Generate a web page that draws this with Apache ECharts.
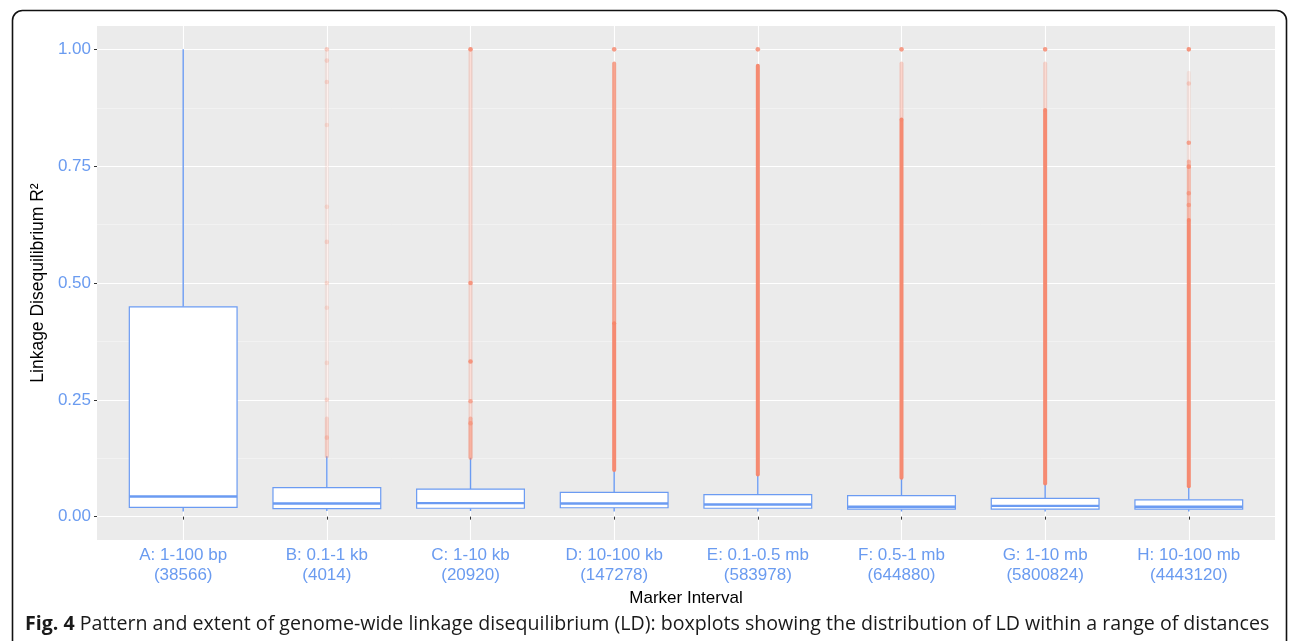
<!DOCTYPE html>
<html>
<head>
<meta charset="utf-8">
<script src="https://cdn.jsdelivr.net/npm/echarts@6/dist/echarts.min.js"></script>
<style>
  html, body { margin: 0; padding: 0; background: #ffffff; }
  #chart { width: 1293px; height: 641px; }
</style>
</head>
<body>
<div id="chart"></div>
<script>
// Marker interval classes and number of marker pairs in each class
const categories = ['A: 1-100 bp', 'B: 0.1-1 kb', 'C: 1-10 kb', 'D: 10-100 kb',
                    'E: 0.1-0.5 mb', 'F: 0.5-1 mb', 'G: 1-10 mb', 'H: 10-100 mb'];
const pairCounts = ['38566', '4014', '20920', '147278', '583978', '644880', '5800824', '4443120'];

// Box statistics of LD (R^2) per class
const whiskerLow  = [0.011, 0.012, 0.012, 0.011, 0.011, 0.011, 0.011, 0.011];
const q1          = [0.020, 0.017, 0.018, 0.019, 0.018, 0.016, 0.016, 0.016];
const median      = [0.043, 0.028, 0.029, 0.028, 0.026, 0.021, 0.023, 0.021];
const q3          = [0.449, 0.062, 0.059, 0.052, 0.047, 0.045, 0.039, 0.036];
const whiskerHigh = [1.000, 0.129, 0.126, 0.100, 0.090, 0.083, 0.071, 0.065];

// Outliers: dense runs of overlapping points [class no., from, to, opacity]
const outlierRuns = [
  [2, 0.129, 1.000, 0.12], [2, 0.129, 0.210, 0.25],
  [3, 0.126, 1.000, 0.28], [3, 0.126, 0.210, 0.50],
  [4, 0.100, 0.414, 0.95], [4, 0.414, 0.970, 0.75],
  [5, 0.090, 0.965, 0.95],
  [6, 0.083, 0.850, 0.95], [6, 0.850, 0.970, 0.35],
  [7, 0.071, 0.870, 0.95], [7, 0.870, 0.970, 0.30],
  [8, 0.065, 0.635, 0.95], [8, 0.635, 0.760, 0.55], [8, 0.760, 0.950, 0.15]
];
// Outliers: separately visible points [class no., R^2, opacity]
const outlierPoints = [
  [2, 1.000, 0.30], [2, 0.976, 0.25], [2, 0.930, 0.25], [2, 0.838, 0.20], [2, 0.663, 0.20],
  [2, 0.588, 0.25], [2, 0.500, 0.20], [2, 0.447, 0.20], [2, 0.329, 0.20], [2, 0.250, 0.25],
  [2, 0.169, 0.30],
  [3, 1.000, 0.80], [3, 0.500, 0.80], [3, 0.332, 0.80], [3, 0.247, 0.60], [3, 0.200, 0.50],
  [4, 1.000, 0.80],
  [5, 1.000, 0.80],
  [6, 1.000, 0.80],
  [7, 1.000, 0.80],
  [8, 1.000, 0.85], [8, 0.927, 0.30], [8, 0.800, 0.70], [8, 0.749, 0.75], [8, 0.692, 0.60],
  [8, 0.667, 0.60]
];

const yTicks = [0, 0.25, 0.5, 0.75, 1];
const yMinorTicks = [0.125, 0.375, 0.625, 0.875];
const xTicks = categories.map((c, i) => i + 1);

const BLUE = '#6B9BF2';
const LABEL_BLUE = '#6A9BF0';
const OUTLIER = '#F5856A';
const FONT = '"Liberation Sans", Arial, sans-serif';

const boxData = categories.map((c, i) =>
  [i + 1, whiskerLow[i], q1[i], median[i], q3[i], whiskerHigh[i]]);

const chart = echarts.init(document.getElementById('chart'), null, { renderer: 'canvas' });

chart.setOption({
  animation: false,
  backgroundColor: '#ffffff',
  grid: {
    left: 97, top: 26, right: 18, bottom: 101,
    show: true, backgroundColor: '#EBEBEB', borderWidth: 0
  },
  xAxis: {
    type: 'value', min: 0.4, max: 8.6,
    name: 'Marker Interval', nameLocation: 'middle', nameGap: 40,
    nameTextStyle: { color: '#000', fontSize: 17, fontFamily: FONT },
    axisLine: { show: false },
    axisTick: { show: true, customValues: xTicks, length: 3, lineStyle: { color: '#333', width: 1 } },
    axisLabel: {
      customValues: xTicks, margin: 5, color: LABEL_BLUE, fontSize: 17, fontFamily: FONT,
      lineHeight: 20, align: 'center',
      formatter: v => categories[v - 1] + '\n(' + pairCounts[v - 1] + ')'
    },
    splitLine: { show: true, lineStyle: { color: '#ffffff', width: 1.1 } }
  },
  yAxis: [{
    type: 'value', min: -0.05, max: 1.05,
    name: 'Linkage Disequilibrium R²', nameLocation: 'middle', nameGap: 45, nameRotate: 90,
    nameTextStyle: { color: '#000', fontSize: 17.5, fontFamily: FONT },
    axisLine: { show: false },
    axisTick: { show: true, customValues: yTicks, length: 3, lineStyle: { color: '#333', width: 1 } },
    axisLabel: {
      customValues: yTicks, margin: 6, color: LABEL_BLUE, fontSize: 17, fontFamily: FONT,
      formatter: v => v.toFixed(2)
    },
    splitLine: { show: true, lineStyle: { color: '#ffffff', width: 1.1 } }
  }, {
    type: 'value', min: -0.05, max: 1.05, position: 'left',
    axisLine: { show: false },
    axisTick: { show: false, customValues: yMinorTicks },
    axisLabel: { show: false, customValues: yMinorTicks },
    splitLine: { show: true, lineStyle: { color: '#F7F7F7', width: 0.6 } }
  }],
  series: [
    {
      // whiskers and boxes
      type: 'custom',
      data: boxData,
      z: 3,
      renderItem: function (params, api) {
        const x = api.value(0);
        const halfW = 0.375;
        const pLow = api.coord([x, api.value(1)]);
        const pQ1 = api.coord([x, api.value(2)]);
        const pMed = api.coord([x, api.value(3)]);
        const pQ3 = api.coord([x, api.value(4)]);
        const pHigh = api.coord([x, api.value(5)]);
        const left = api.coord([x - halfW, 0])[0];
        const right = api.coord([x + halfW, 0])[0];
        const cx = pMed[0];
        return {
          type: 'group',
          children: [
            { type: 'line', shape: { x1: cx, y1: pQ3[1], x2: cx, y2: pHigh[1] },
              style: { stroke: BLUE, lineWidth: 1.4 } },
            { type: 'line', shape: { x1: cx, y1: pQ1[1], x2: cx, y2: pLow[1] },
              style: { stroke: BLUE, lineWidth: 1.4 } },
            { type: 'rect', shape: { x: left, y: pQ3[1], width: right - left, height: pQ1[1] - pQ3[1] },
              style: { fill: '#ffffff', stroke: BLUE, lineWidth: 1.2 } },
            { type: 'line', shape: { x1: left, y1: pMed[1], x2: right, y2: pMed[1] },
              style: { stroke: BLUE, lineWidth: 2.4 } }
          ]
        };
      }
    },
    {
      // dense outlier runs
      type: 'custom',
      data: outlierRuns,
      z: 4,
      renderItem: function (params, api) {
        const p1 = api.coord([api.value(0), api.value(1)]);
        const p2 = api.coord([api.value(0), api.value(2)]);
        return {
          type: 'line',
          shape: { x1: p1[0], y1: p1[1], x2: p2[0], y2: p2[1] },
          style: { stroke: OUTLIER, lineWidth: 4, lineCap: 'round', opacity: api.value(3) }
        };
      }
    },
    {
      // individual outliers
      type: 'custom',
      data: outlierPoints,
      z: 5,
      renderItem: function (params, api) {
        const p = api.coord([api.value(0), api.value(1)]);
        return {
          type: 'circle',
          shape: { cx: p[0], cy: p[1], r: 2.3 },
          style: { fill: OUTLIER, opacity: api.value(2) }
        };
      }
    }
  ],
  graphic: [
    {
      type: 'rect', left: 10, top: 8, z: -10, silent: true,
      shape: { width: 1274, height: 640, r: 10 },
      style: { fill: 'none', stroke: '#111', lineWidth: 1.6 }
    },
    {
      type: 'text', left: 25, top: 614, silent: true,
      style: {
        text: '{b|Fig. 4} Pattern and extent of genome-wide linkage disequilibrium (LD): boxplots showing the distribution of LD within a range of distances',
        fontFamily: '"Open Sans", sans-serif', fontSize: 19.6, fill: '#1a1a1a',
        rich: { b: { fontWeight: 'bold', fontFamily: '"Open Sans", sans-serif', fontSize: 19.6, fill: '#1a1a1a' } }
      }
    }
  ]
});
</script>
</body>
</html>
